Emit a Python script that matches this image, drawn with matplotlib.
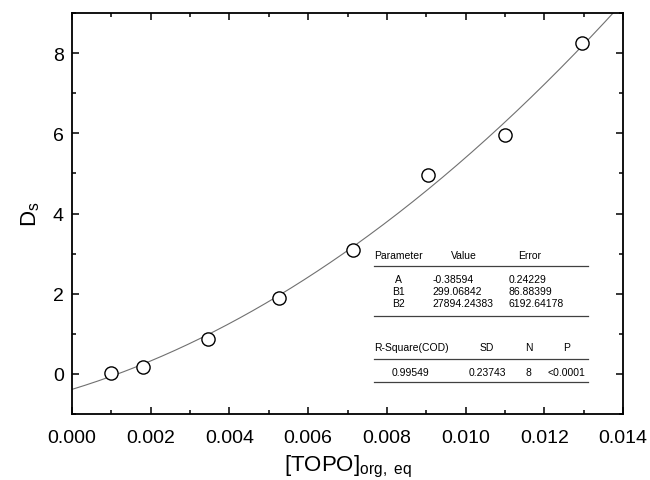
import numpy as np
import matplotlib
matplotlib.use('Agg')
import matplotlib.pyplot as plt
from matplotlib.ticker import MultipleLocator

plt.rcParams['font.family'] = ['Liberation Sans', 'DejaVu Sans']
plt.rcParams['mathtext.fontset'] = 'custom'
plt.rcParams['mathtext.rm'] = 'Liberation Sans'
plt.rcParams['mathtext.it'] = 'Liberation Sans:italic'

# data
topo = [0.00098, 0.00181, 0.00345, 0.00525, 0.00713, 0.00904, 0.01101, 0.01296]
ds = [0.01, 0.17, 0.87, 1.89, 3.10, 4.97, 5.96, 8.25]

# polynomial fit parameters (from the table)
par_names = ['A', 'B1', 'B2']
par_values = [-0.38594, 299.06842, 27894.24383]
par_errors = [0.24229, 86.88399, 6192.64178]
stat_names = ['R-Square(COD)', 'SD', 'N', 'P']
stat_values = ['0.99549', '0.23743', '8', '<0.0001']

fig = plt.figure(figsize=(6.5, 4.81), dpi=100)
ax = fig.add_axes([72 / 650, 66 / 481, 551 / 650, 401 / 481])

xf = np.linspace(0, 0.014, 300)
a, b1, b2 = par_values
ax.plot(xf, a + b1 * xf + b2 * xf ** 2, color='#707070', lw=0.8, zorder=2)
ax.plot(topo, ds, 'o', mfc='white', mec='black', mew=1.0, ms=9.5, zorder=3)

ax.set_xlim(0, 0.014)
ax.set_ylim(-1, 9)
ax.xaxis.set_major_locator(MultipleLocator(0.002))
ax.xaxis.set_minor_locator(MultipleLocator(0.001))
ax.yaxis.set_major_locator(MultipleLocator(2))
ax.yaxis.set_minor_locator(MultipleLocator(1))
ax.xaxis.set_major_formatter(matplotlib.ticker.FormatStrFormatter('%.3f'))
ax.tick_params(which='both', direction='in', top=True, right=True, width=1.1)
ax.tick_params(which='major', length=5, labelsize=14)
ax.tick_params(which='minor', length=3)
ax.tick_params(axis='x', pad=11)
ax.tick_params(axis='y', pad=6)
for s in ax.spines.values():
    s.set_linewidth(1.3)

ax.set_xlabel(r'[TOPO]$_{\mathrm{org,\ eq}}$', fontsize=16, labelpad=5)
ax.set_ylabel(r'D$_{\mathrm{s}}$', fontsize=16, labelpad=8)

# fit result table
fs = 7.5
tr = ax.transAxes
ax.text(0.548, 0.3965, 'Parameter', fontsize=fs, ha='left', va='center', transform=tr)
ax.text(0.711, 0.3965, 'Value', fontsize=fs, ha='center', va='center', transform=tr)
ax.text(0.831, 0.3965, 'Error', fontsize=fs, ha='center', va='center', transform=tr)
row_y = [0.337, 0.307, 0.277]
for name, val, err, y in zip(par_names, par_values, par_errors, row_y):
    ax.text(0.593, y, name, fontsize=fs, ha='center', va='center', transform=tr)
    ax.text(0.655, y, f'{val:.5f}', fontsize=fs, ha='left', va='center', transform=tr)
    ax.text(0.793, y, f'{err:.5f}', fontsize=fs, ha='left', va='center', transform=tr)

stat_x = [0.548, 0.753, 0.829, 0.898]
val_x = [0.615, 0.753, 0.829, 0.898]
for i, (nm, v) in enumerate(zip(stat_names, stat_values)):
    ax.text(stat_x[i], 0.167, nm, fontsize=fs, ha='left' if i == 0 else 'center',
            va='center', transform=tr)
    ax.text(val_x[i], 0.105, v, fontsize=fs, ha='center', va='center', transform=tr)

for y in [0.370, 0.244, 0.137, 0.079]:
    ax.plot([0.548, 0.936], [y, y], color='#404040', lw=0.9, transform=tr)

fig.savefig('out.png', dpi=100)
